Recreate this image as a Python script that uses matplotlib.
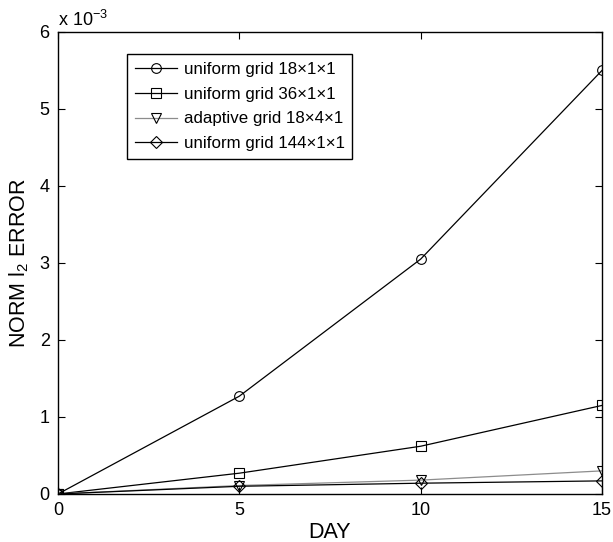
import matplotlib
matplotlib.use("Agg")
import matplotlib.pyplot as plt

plt.rcParams['font.family'] = ['Liberation Sans', 'DejaVu Sans']
plt.rcParams['mathtext.fontset'] = 'custom'
plt.rcParams['mathtext.rm'] = 'Liberation Sans'
plt.rcParams['mathtext.it'] = 'Liberation Sans'

# Days and errors (in units of 1e-3)
days = [0, 5, 10, 15]
uniform_18 = [0.0, 1.27, 3.05, 5.50]
uniform_36 = [0.0, 0.27, 0.62, 1.15]
adaptive_18x4 = [0.0, 0.11, 0.18, 0.30]
uniform_144 = [0.0, 0.10, 0.14, 0.17]

labels = ["uniform grid 18\u00d71\u00d71", "uniform grid 36\u00d71\u00d71",
          "adaptive grid 18\u00d74\u00d71", "uniform grid 144\u00d71\u00d71"]
xticks = [0, 5, 10, 15]
yticks = [0, 1, 2, 3, 4, 5, 6]

fig = plt.figure(figsize=(6.13, 5.42), dpi=100)
ax = fig.add_axes([0.0946, 0.0886, 0.8874, 0.8524])

common = dict(markersize=7, markerfacecolor='none', markeredgewidth=0.8, linewidth=0.9)
ax.plot(days, uniform_18, '-o', color='black', label=labels[0], **common)
ax.plot(days, uniform_36, '-s', color='black', label=labels[1], **dict(common, markersize=6.5))
ax.plot(days, adaptive_18x4, '-v', color='#8c8c8c', markeredgecolor='black', label=labels[2], **common)
ax.plot(days, uniform_144, '-D', color='black', label=labels[3], **dict(common, markersize=6))

ax.set_xlim(0, 15)
ax.set_ylim(0, 6)
ax.set_xticks(xticks)
ax.set_yticks(yticks)
ax.tick_params(direction='in', length=5, width=0.8, top=True, right=True, labelsize=13)
ax.tick_params(axis='x', pad=6)
ax.tick_params(axis='y', pad=6)
for sp in ax.spines.values():
    sp.set_linewidth(1.0)

ax.set_xlabel("DAY", fontsize=15.5, labelpad=2)
ax.set_ylabel("NORM l$_2$ ERROR", fontsize=15.5, labelpad=6)
ax.text(0.0, 1.005, "x 10$^{-3}$", transform=ax.transAxes, fontsize=13, ha='left', va='bottom')

leg = ax.legend(loc='upper left', bbox_to_anchor=(0.127, 0.952), fontsize=12.2,
                frameon=True, fancybox=False, edgecolor='black', framealpha=1,
                handlelength=2.5, handletextpad=0.4, borderpad=0.45, labelspacing=0.58,
                borderaxespad=0)
leg.get_frame().set_linewidth(1.0)

fig.savefig("out.png", dpi=100)
